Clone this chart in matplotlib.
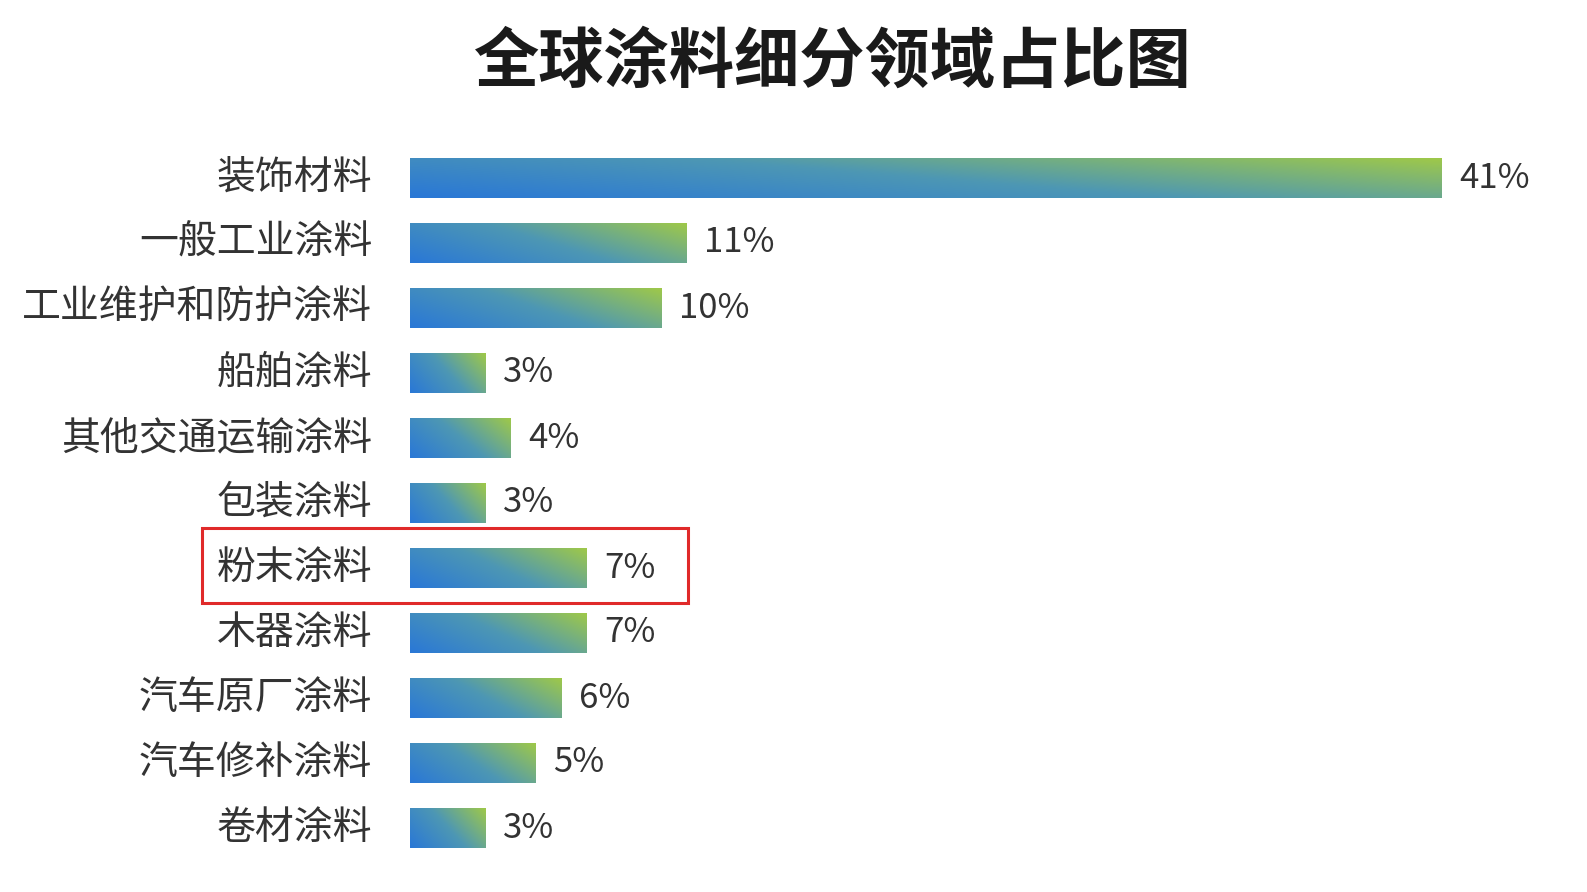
import numpy as np
import matplotlib
matplotlib.use("Agg")
import matplotlib.pyplot as plt
from matplotlib.colors import LinearSegmentedColormap
from matplotlib.patches import Rectangle

plt.rcParams['font.family'] = ['Noto Sans CJK SC', 'DejaVu Sans']

categories = ["装饰材料", "一般工业涂料", "工业维护和防护涂料", "船舶涂料", "其他交通运输涂料",
              "包装涂料", "粉末涂料", "木器涂料", "汽车原厂涂料", "汽车修补涂料", "卷材涂料"]
values = [41, 11, 10, 3, 4, 3, 7, 7, 6, 5, 3]
title = "全球涂料细分领域占比图"

W, H = 1587, 892
fig = plt.figure(figsize=(W/100, H/100), dpi=100)
ax = fig.add_axes([410/W, 1-860.5/H, 1-410/W, (860.5-145.5)/H])
ax.set_xlim(0, (W-410)/((1442-410)/41))
ax.set_ylim(len(categories)-0.5, -0.5)
ax.axis('off')

cmap = LinearSegmentedColormap.from_list('g', ['#2a78d6', '#4d97b4', '#9ec84a'])
bh = 0.62
for i, (c, v) in enumerate(zip(categories, values)):
    xs = np.linspace(0, 1, 64)
    ys = np.linspace(0, 1, 16)
    X, Y = np.meshgrid(xs, ys)
    Z = 0.75*X + 0.35*Y
    Z = Z / Z.max()
    rect = Rectangle((0, i-bh/2), v, bh, facecolor='none', edgecolor='none')
    ax.add_patch(rect)
    im = ax.imshow(Z[::-1], extent=(0, v, i+bh/2, i-bh/2), cmap=cmap, aspect='auto',
                   interpolation='bilinear', vmin=0, vmax=1)
    im.set_clip_path(rect)
    ax.text(v+0.7, i, f"{v}%", va='center', ha='left', fontsize=25, color='#333333')
    ax.text(-1.5, i, c, va='center', ha='right', fontsize=28, color='#333333')

fig.text(0.525, 1-62/H, title, ha='center', va='center', fontsize=47, fontweight='bold', color='#1a1a1a')
fig.patches.append(Rectangle((202/W, 1-603/H), (688-202)/W, (603-528)/H, transform=fig.transFigure,
                             fill=False, edgecolor='#e02a2a', lw=2.2))
fig.savefig('out.png', dpi=100)
